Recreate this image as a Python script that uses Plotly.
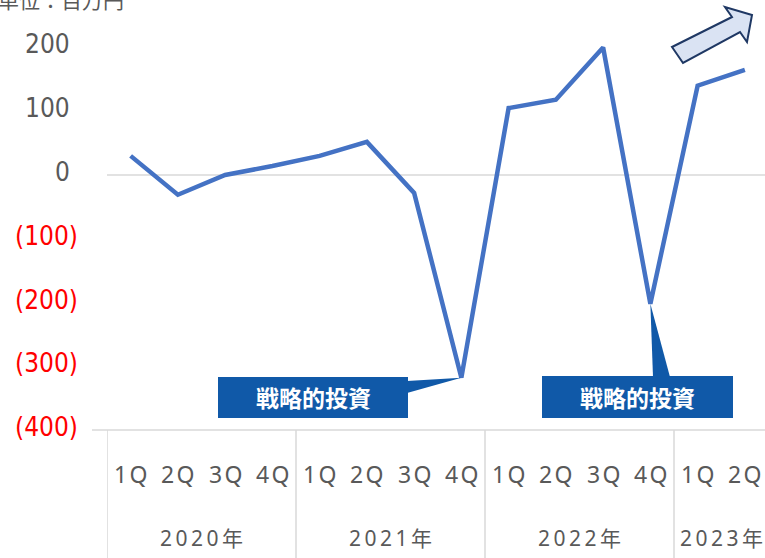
import plotly.graph_objects as go

years = ["2020年", "2021年", "2022年", "2023年"]
quarters = ["1Q", "2Q", "3Q", "4Q", "1Q", "2Q", "3Q", "4Q", "1Q", "2Q", "3Q", "4Q", "1Q", "2Q"]
values = [30, -31, 0, 14, 30, 52, -28, -318, 105, 118, 200, -202, 140, 165]
y_ticks = [200, 100, 0, -100, -200, -300, -400]
y_tick_labels = ["200", "100", "0", "(100)", "(200)", "(300)", "(400)"]
callout_points = [7, 11]
callout_text = "戦略的投資"

W, H = 765, 558
L, T, B = 107, 0, 128
PW, PH = W - L, H - T - B
XMIN, XMAX = -0.5, 13.426
YMIN, YMAX = -400, 274.5

def dx(px):
    return XMIN + (px - L) / PW * (XMAX - XMIN)

def dy(py):
    return YMAX - (py - T) / PH * (YMAX - YMIN)

def path(pts):
    return "M " + " L ".join(f"{dx(a):.4f},{dy(b):.3f}" for a, b in pts) + " Z"

xs = list(range(len(values)))
gray = "#595959"
font_num = "DejaVu Sans Condensed, DejaVu Sans"
font_lat = "Noto Sans, Noto Sans CJK JP"
font_jp = "Noto Sans CJK JP"

fig = go.Figure()
fig.add_trace(go.Scatter(x=xs, y=values, mode="lines",
                         line=dict(color="#4472C4", width=4.5), hoverinfo="skip"))

shapes = []
shapes.append(dict(type="line", xref="x", yref="y", x0=XMIN, x1=XMAX, y0=0, y1=0,
                   line=dict(color="#D9D9D9", width=1.5), layer="below"))
shapes.append(dict(type="line", xref="paper", yref="paper", x0=(92 - L) / PW, x1=1,
                   y0=0, y1=0, line=dict(color="#D9D9D9", width=1.5)))
for b in [-0.5, 3.5, 7.5, 11.5]:
    shapes.append(dict(type="line", xref="x", yref="paper", x0=b, x1=b, y0=0, y1=-B / PH,
                       line=dict(color="#D9D9D9", width=1.5)))

blue = "#1059A8"
shapes.append(dict(type="rect", xref="x", yref="y", x0=dx(218), x1=dx(408), y0=dy(418), y1=dy(377),
                   fillcolor=blue, line=dict(width=0)))
shapes.append(dict(type="path", xref="x", yref="y",
                   path=f"M {dx(407):.4f},{dy(381):.3f} L {dx(407):.4f},{dy(393):.3f} L {callout_points[0]},{values[callout_points[0]]} Z",
                   fillcolor=blue, line=dict(width=0)))
shapes.append(dict(type="rect", xref="x", yref="y", x0=dx(542), x1=dx(733), y0=dy(418), y1=dy(376),
                   fillcolor=blue, line=dict(width=0)))
shapes.append(dict(type="path", xref="x", yref="y",
                   path=f"M {dx(653):.4f},{dy(377):.3f} L {dx(670):.4f},{dy(377):.3f} L {callout_points[1]},{values[callout_points[1]]} Z",
                   fillcolor=blue, line=dict(width=0)))
shapes.append(dict(type="path", xref="x", yref="y",
                   path=path([(672, 47), (732, 17), (725, 7), (752, 15), (747, 42), (740, 32), (683, 63)]),
                   fillcolor="#DAE3F3", line=dict(color="#1F3864", width=2)))

ann = []
for v, t in zip(y_ticks, y_tick_labels):
    right = 80 if v < 0 else 72
    ann.append(dict(x=(right - L) / PW, xref="paper", y=v, yref="y", text=t, showarrow=False,
                    xanchor="right", yanchor="middle", yshift=3,
                    font=dict(family=font_num, size=26, color="#FF0000" if v < 0 else gray)))
for i, q in enumerate(quarters):
    ann.append(dict(x=i, xref="x", y=-(473.5 - 430) / PH, yref="paper", text=q[0] + "\u200a" + q[1],
                    showarrow=False, xanchor="center", yanchor="middle",
                    font=dict(family=font_lat, size=23, color=gray)))
year_centers = [1.5, 5.5, 9.5, 12.5]
for yc, yr in zip(year_centers, years):
    ann.append(dict(x=yc, xref="x", y=-(538 - 430) / PH, yref="paper", text="\u2009".join(yr),
                    showarrow=False, xanchor="center", yanchor="middle",
                    font=dict(family=font_lat, size=21, color=gray)))
for cx in [313, 637]:
    ann.append(dict(x=dx(cx), xref="x", y=dy(397), yref="y", text="<b>" + callout_text + "</b>",
                    showarrow=False, font=dict(family=font_jp, size=23, color="white")))
ann.append(dict(x=(-4 - L) / PW, xref="paper", y=(H - B + 1) / PH, yref="paper", text="単位：百万円",
                showarrow=False, xanchor="left", yanchor="middle",
                font=dict(family=font_jp, size=21, color=gray)))

fig.update_layout(
    width=W, height=H, margin=dict(l=L, r=0, t=T, b=B),
    paper_bgcolor="white", plot_bgcolor="white", showlegend=False,
    xaxis=dict(range=[XMIN, XMAX], showgrid=False, zeroline=False, showticklabels=False,
               showline=False, fixedrange=True),
    yaxis=dict(range=[YMIN, YMAX], showgrid=False, zeroline=False, showticklabels=False,
               showline=False, fixedrange=True),
    shapes=shapes, annotations=ann,
)
fig.write_html("out.html", config={"displayModeBar": False},
               post_script="document.body.style.margin='0';document.body.style.overflow='hidden';")
